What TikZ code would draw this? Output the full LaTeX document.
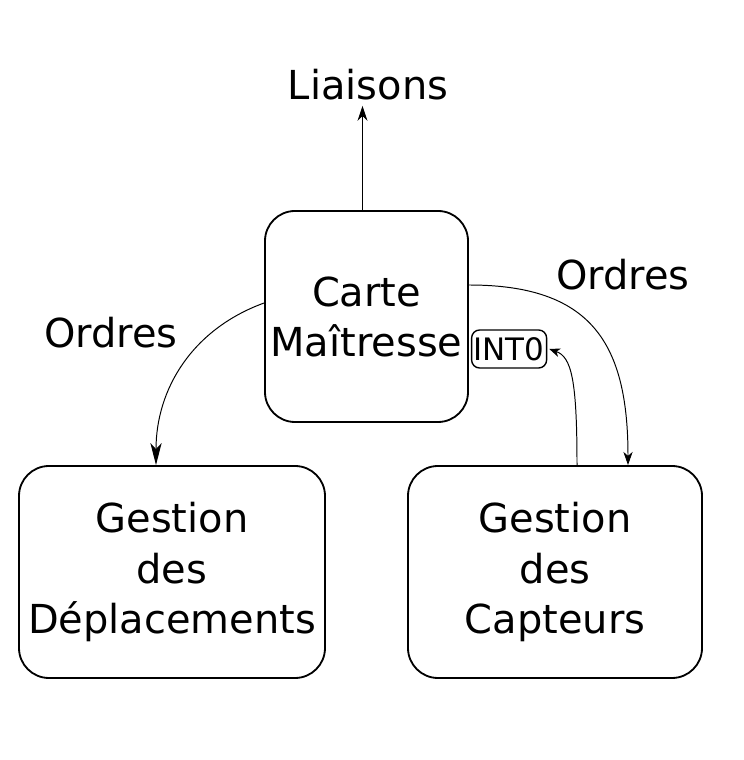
\documentclass[tikz,border=0pt]{standalone}
\usepackage{fontspec}
\setmainfont{DejaVu Sans}
\usetikzlibrary{arrows.meta,positioning}
\begin{document}
\begin{tikzpicture}[
  bloc/.style={draw, line width=1.3pt, rounded corners=0.75cm, inner sep=0pt,
    align=center, font=\fontsize{28.4}{35.6}\selectfont},
  etiquette/.style={font=\fontsize{28.4}{35.6}\selectfont},
  lien/.style={line width=0.7pt}]
\useasboundingbox (0,0) rectangle (18.6,19);
\node (carte) at (9.1625,11.0875) [bloc, minimum width=5.075cm, minimum height=5.275cm] {Carte\\Maîtresse};
\node (depl) at (4.3,4.7) [bloc, minimum width=7.65cm, minimum height=5.3cm] {Gestion\\des\\Déplacements};
\node (capt) at (13.875,4.7) [bloc, minimum width=7.35cm, minimum height=5.3cm] {Gestion\\des\\Capteurs};
\node (liaisons) at (9.2,16.5) [etiquette, anchor=base, inner sep=0.125cm] {Liaisons};
\node (int) at ([xshift=0.05cm, yshift=-0.8125cm]carte.east) [anchor=west, draw, line width=1pt,
  rounded corners=0.2cm, inner sep=0pt, minimum width=1.875cm, minimum height=0.95cm,
  font=\fontsize{22}{25}\selectfont] {INT0};
\node (ordresd) at (15.575,12.125) [etiquette] {Ordres};
\node (ordresg) at (2.775,10.675) [etiquette] {Ordres};
\coordinate (depart) at ([xshift=-0.1cm]carte.north);
\draw[lien, -{Stealth[length=0.375cm, width=0.25cm, inset=0.12cm]}] (depart) -- (depart |- liaisons.south);
\draw[lien, -{Stealth[length=0.55cm, width=0.28cm, inset=0.15cm]}] ([yshift=0.3375cm]carte.west) to[out=200, in=90] ([xshift=-0.4cm]depl.north);
\draw[lien, -{Stealth[length=0.33cm, width=0.23cm, inset=0.1cm]}] ([yshift=0.7875cm]carte.east) to[out=0, in=90, looseness=1.3] ([xshift=1.825cm]capt.north);
\draw[lien, -{Stealth[length=0.27cm, width=0.22cm, inset=0.08cm]}] ([xshift=0.55cm]capt.north) .. controls +(0,2.15) and +(0.55,-0.2) .. ([xshift=0.05cm]int.east);
\end{tikzpicture}
\end{document}
